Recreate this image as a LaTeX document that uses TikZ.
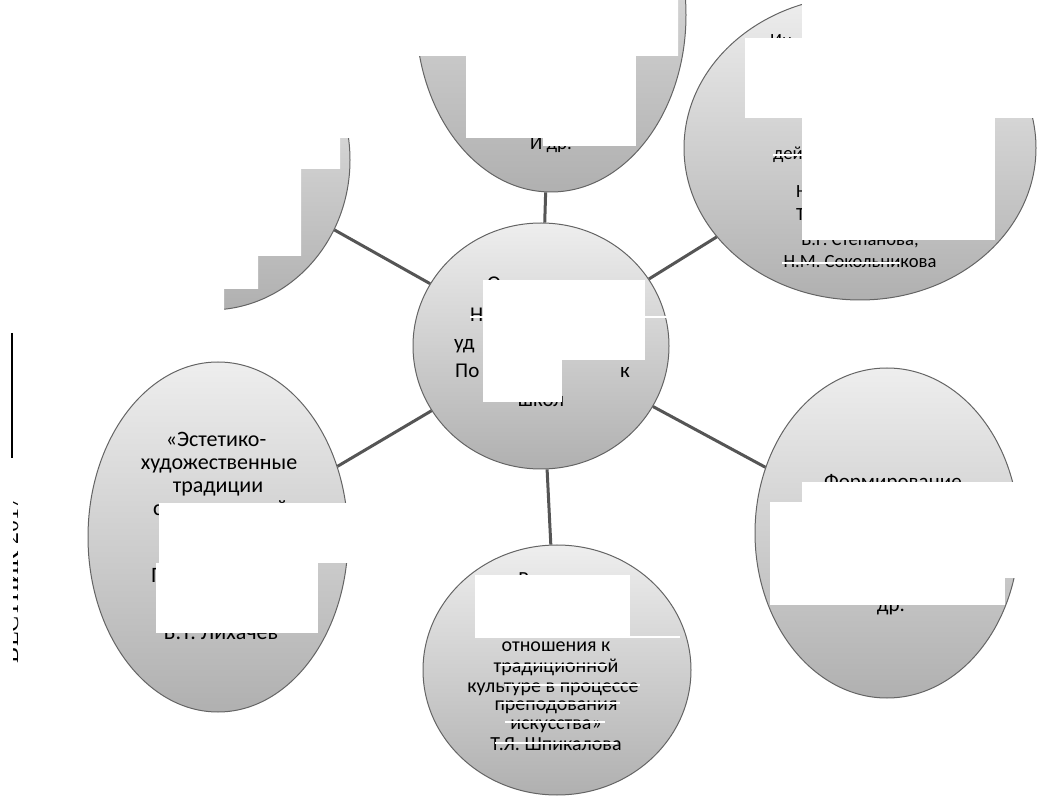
\documentclass[tikz,border=0pt]{standalone}
\usepackage{fontspec}
\setmainfont{Carlito}
\newfontfamily\sideserif{Liberation Serif}
\usetikzlibrary{shapes.geometric}
\newcommand{\myfs}[1]{\fontsize{#1pt}{#1pt}\selectfont}
\definecolor{fillTop}{RGB}{238,238,238}
\definecolor{fillBot}{RGB}{176,176,176}
\definecolor{edgeGray}{RGB}{100,100,100}
\definecolor{connGray}{RGB}{85,85,85}
\begin{document}
\begin{tikzpicture}[x=1pt,y=-1pt,
  bubble/.style={ellipse, draw=edgeGray, line width=1pt, top color=fillTop, bottom color=fillBot, inner sep=0pt},
  link/.style={draw=connGray, line width=3pt},
  mask/.style={fill=white, draw=none},
  lbl/.style={inner sep=0pt, anchor=base, text=black},
  lblw/.style={lbl, anchor=base west},
  scratch/.style={draw=white, line width=1.5pt}]
\useasboundingbox (0,0) rectangle (1037,799);

% bubbles
\node[bubble, minimum width=270pt, minimum height=354pt] (top) at (551,15) {};
\node[bubble, minimum width=352pt, minimum height=304pt] (tr) at (860,148) {};
\node[bubble, minimum width=280pt, minimum height=300pt] (tl) at (210,160) {};
\node[bubble, minimum width=256pt, minimum height=246pt] (ctr) at (541,346) {};
\node[bubble, minimum width=260pt, minimum height=350pt] (bl) at (218,537) {};
\node[bubble, minimum width=268pt, minimum height=250pt] (bot) at (557,670) {};
\node[bubble, minimum width=264pt, minimum height=330pt] (br) at (887,533) {};

% connectors
\draw[link] (ctr) -- (top);
\draw[link] (ctr) -- (tr);
\draw[link] (ctr) -- (tl);
\draw[link] (ctr) -- (bl);
\draw[link] (ctr) -- (bot);
\draw[link] (ctr) -- (br);

% texts: top
\node[lbl, font=\myfs{19}] (t1) at (551,150) {И др.};
% top right
\node[lblw, font=\myfs{18.6}] (tr1) at (770,47) {Ин};
\node[lblw, font=\myfs{18.6}] (tr2) at (773,160) {дей};
\node[lblw, font=\myfs{18.6}] (tr3) at (796,198) {Н};
\node[lblw, font=\myfs{18.6}] (tr4) at (796,221) {Т};
\node[lbl, font=\myfs{18.6}] (tr5) at (860,246) {В.Г. Степанова,};
\node[lbl, font=\myfs{18.6}] (tr6) at (860,268) {Н.М. Сокольникова};
% centre
\node[lblw, font=\myfs{21}] (c1) at (487,291) {О};
\node[lblw, font=\myfs{21}] (c2) at (470,322) {Н};
\node[lblw, font=\myfs{21}] (c3) at (454,350) {уд};
\node[lblw, font=\myfs{21}] (c4) at (455,378) {По};
\node[lblw, font=\myfs{21}] (c5) at (620,378) {к};
\node[lbl, font=\myfs{21}] (c6) at (541,407) {школ};
% bottom left
\node[lbl, font=\myfs{22}] (l1) at (216,447) {«Эстетико-};
\node[lbl, font=\myfs{22}] (l2) at (219,470) {художественные};
\node[lbl, font=\myfs{22}] (l3) at (218,493) {традиции};
\node[lblw, font=\myfs{22}] (l4) at (153,516) {с};
\node[lblw, font=\myfs{22}] (l5) at (276,516) {й};
\node[lblw, font=\myfs{22}] (l6) at (151,583) {П};
\node[lbl, font=\myfs{22}] (l7) at (221,639) {Б.Т. Лихачев};
% bottom
\node[lbl, font=\myfs{20}] (b1) at (557,585) {Развитие};
\node[lbl, font=\myfs{20}] (b2) at (556,651) {отношения к};
\node[lbl, font=\myfs{20}] (b3) at (556,672) {традиционной};
\node[lbl, font=\myfs{20}] (b4) at (553,692) {культуре в процессе};
\node[lbl, font=\myfs{20}] (b5) at (556,710) {преподования};
\node[lbl, font=\myfs{20}] (b6) at (556,729) {искусства»};
\node[lbl, font=\myfs{20}] (b7) at (556,750) {Т.Я. Шпикалова};
% bottom right
\node[lbl, font=\myfs{21}] (r1) at (893,489) {Формирование};
\node[lbl, font=\myfs{21}] (r2) at (891,611) {др.};

% white masks
\fill[mask] (0,0) -- (678,0) -- (678,56) -- (360,56) -- (360,138) -- (340,138) -- (340,169)
  -- (301,169) -- (301,256) -- (258,256) -- (258,289) -- (224,289) -- (224,330) -- (0,330) -- cycle;
\fill[mask] (466,56) rectangle (636,138);
\fill[mask] (543,138) rectangle (636,146);
\fill[mask] (802,0) rectangle (1037,118);
\fill[mask] (745,38) rectangle (802,118);
\fill[mask] (802,118) rectangle (995,240);
\fill[mask] (483,280) rectangle (645,360);
\fill[mask] (483,360) rectangle (562,402);
\fill[mask] (475,575) rectangle (630,638);
\fill[mask] (159,503) rectangle (350,563);
\fill[mask] (156,563) rectangle (318,633);
\fill[mask] (802,482) rectangle (1020,502);
\fill[mask] (770,502) rectangle (1020,578);
\fill[mask] (770,578) rectangle (1005,605);

% thin white scratches
\draw[scratch] (773,155) -- (802,155);
\draw[scratch] (782,263) -- (900,263);
\draw[scratch] (470,317) -- (668,317);
\draw[scratch] (630,637) -- (680,637);
\draw[scratch] (500,665) -- (607,665);
\draw[scratch] (505,685) -- (640,685);
\draw[scratch] (500,703) -- (620,703);
\draw[scratch] (505,722) -- (605,722);
\draw[scratch] (495,743) -- (617,743);

% margin rule and cut-off running head
\coordinate (ruleA) at (12,333);
\coordinate (ruleB) at (12,458);
\draw[line width=2pt] (ruleA) -- (ruleB);
\begin{scope}
  \clip (13,470) rectangle (19,680);
  \node[rotate=90, anchor=base, inner sep=0pt, font=\sideserif\myfs{24}] (side) at (18,580) {ВЕСТНИК 2017};
\end{scope}
\end{tikzpicture}
\end{document}
